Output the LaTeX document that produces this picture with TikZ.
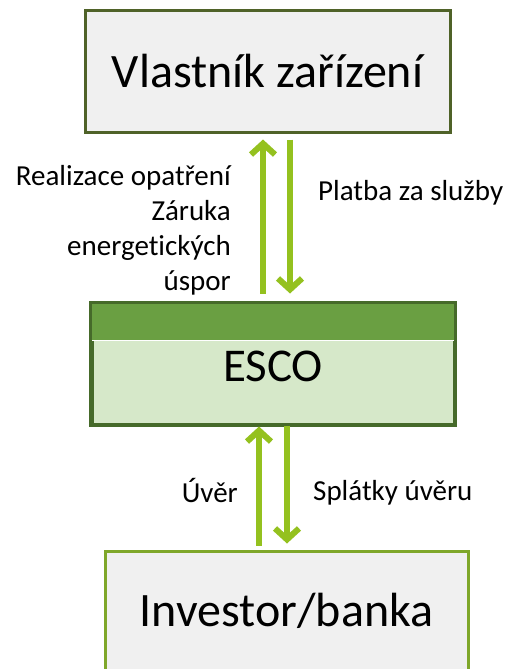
\documentclass[tikz,border=0pt]{standalone}
\usepackage{fontspec}
\setmainfont[Ligatures={NoCommon}]{Carlito}
\usetikzlibrary{arrows.meta}
\definecolor{boxgray}{HTML}{F0F0F0}
\definecolor{topborder}{HTML}{4F6228}
\definecolor{escoborder}{HTML}{466A2A}
\definecolor{escoband}{HTML}{6A9F42}
\definecolor{escolight}{HTML}{D6E8C9}
\definecolor{botborder}{HTML}{7FA72A}
\definecolor{arrgreen}{HTML}{94C11F}
\tikzset{
  box/.style={draw, line width=3pt, inner sep=0pt, font=\fontsize{48}{56}\selectfont},
  arr/.style={draw=arrgreen, line width=6pt, -{Straight Barb[length=11pt,width=24pt,line width=6pt]}},
  lbl/.style={inner sep=0pt, font=\fontsize{29}{35}\selectfont}
}
\begin{document}
\begin{tikzpicture}[x=1pt,y=-1pt]
\useasboundingbox (0,0) rectangle (507,669);
\clip (0,0) rectangle (507,669);
% boxes
\node[box, draw=topborder, fill=boxgray, minimum width=365pt, minimum height=121pt] (own) at (267.5,71.5) {Vlastník zařízení};
\node[box, draw=escoborder, fill=escolight, minimum width=362pt, minimum height=120pt] (esco) at (273,364) {};
\fill[escoband] ([xshift=1.5pt,yshift=-1.5pt]esco.north west) rectangle ([xshift=-1.5pt,yshift=-38pt]esco.north east);
\draw[white, line width=0.8pt] ([xshift=1.5pt,yshift=-38pt]esco.north west) -- ([xshift=-1.5pt,yshift=-38pt]esco.north east);
\draw[escoborder, line width=3pt] (esco.north west) rectangle (esco.south east);
\node[inner sep=0pt, font=\fontsize{47}{54}\selectfont] (escotext) at (273,366) {ESCO};
\node[box, draw=botborder, fill=boxgray, minimum width=363pt, minimum height=120pt] (bank) at (286.5,611) {Investor/banka};
% arrow positions
\coordinate (ux1) at (263,0);
\coordinate (dx1) at (290,0);
\coordinate (ux2) at (259,0);
\coordinate (dx2) at (287,0);
% arrows
\draw[arr, shorten <=9pt, shorten >=6pt] (esco.north -| ux1) -- (own.south -| ux1);
\draw[arr, shorten <=6pt, shorten >=9pt] (own.south -| dx1) -- (esco.north -| dx1);
\draw[arr, shorten <=4pt, shorten >=1pt] (bank.north -| ux2) -- (esco.south -| ux2);
\draw[arr, shorten >=6pt] (esco.south -| dx2) -- (bank.north -| dx2);
% labels
\node[lbl, align=right, anchor=east] (l1) at (231,230) {Realizace opatření\\Záruka\\energetických\\úspor};
\node[lbl, anchor=west] (l2) at (318,193) {Platba za služby};
\node[lbl, anchor=east] (l3) at (238,490) {Úvěr};
\node[lbl, anchor=west] (l4) at (313,493) {Splátky úvěru};
\end{tikzpicture}
\end{document}
